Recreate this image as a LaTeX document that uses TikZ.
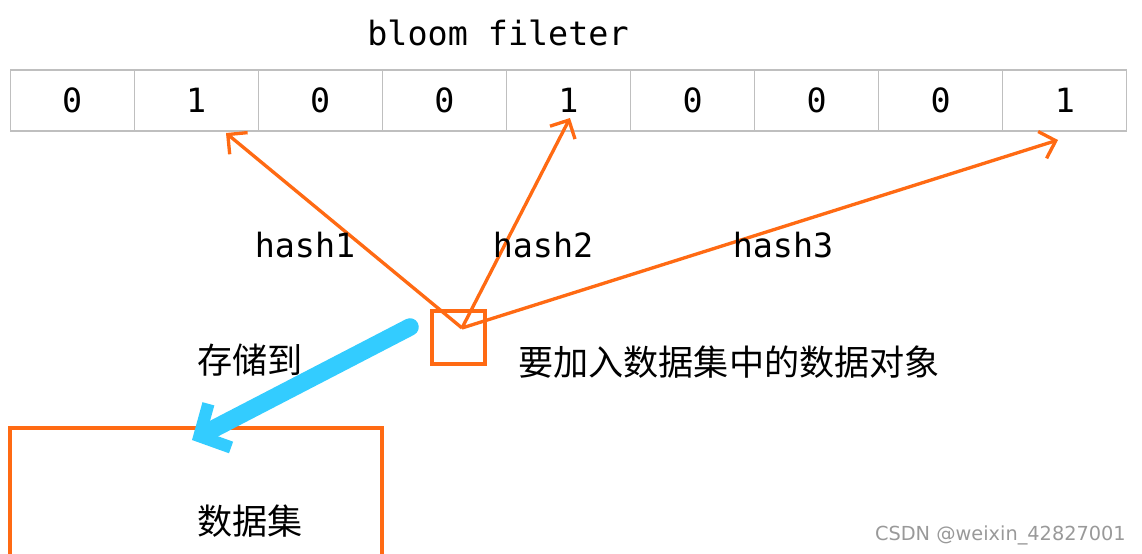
\documentclass[tikz,border=0pt]{standalone}
\usepackage{fontspec}
\setmainfont{DejaVu Sans}
\newfontfamily\cjk{Noto Sans CJK SC}
\newfontfamily\mono{DejaVu Sans Mono}
\usetikzlibrary{arrows.meta}
\definecolor{org}{HTML}{FF6A13}
\definecolor{sky}{HTML}{33CCFF}
\begin{document}
\begin{tikzpicture}[x=0.02cm,y=-0.02cm,
  cell/.style={draw=gray!50,line width=0.6pt,minimum width=2.48cm,minimum height=1.22cm,inner sep=0pt,font=\mono\fontsize{19}{23}\selectfont},
  harrow/.style={draw=org,line width=1.9pt,-{Straight Barb[length=8pt,width=16pt,line width=1.9pt]}},
  lab/.style={font=\mono\fontsize{19}{23}\selectfont},
  cjklab/.style={font=\cjk\fontsize{20}{24}\selectfont}]
\useasboundingbox (0,0) rectangle (1142,554);
\node[lab] (title) at (498,33) {bloom fileter};
\foreach \v [count=\i] in {0,1,0,0,1,0,0,0,1}{
  \node[cell] (c\i) at ({10+124.1*(\i-0.5)},100.5) {\v};
}
\node[draw=org,line width=1.9pt,minimum size=1.06cm,inner sep=0pt] (obj) at (458.5,337.5) {};
\coordinate (o) at (462,328);
\coordinate (t1) at (226,133);
\coordinate (t2) at (570,118);
\coordinate (t3) at (1058,140);
\draw[harrow] (o) -- (t1);
\draw[harrow] (o) -- (t2);
\draw[harrow] (o) -- (t3);
\node[lab] (h1) at (305,245) {hash1};
\node[lab] (h2) at (543,245) {hash2};
\node[lab] (h3) at (783,245) {hash3};
\node[cjklab,anchor=west] (objlab) at (512,362) {要加入数据集中的数据对象};
\node[cjklab] (store) at (250,360) {存储到};
\draw[draw=org,line width=1.9pt] (10,600) -- (10,428) -- (382,428) -- (382,600);
\node[cjklab] (ds) at (250,521) {数据集};
\coordinate (b0) at (410,327);
\coordinate (b1) at (192,440);
\draw[sky,line width=10pt,line cap=round,-{Straight Barb[length=13pt,width=28pt,line width=7pt]}] (b0) -- (b1);
\node[font=\fontsize{11}{13}\selectfont,text=gray!80,anchor=east] (wm) at (1132,535) {CSDN @weixin\_42827001};
\end{tikzpicture}
\end{document}
